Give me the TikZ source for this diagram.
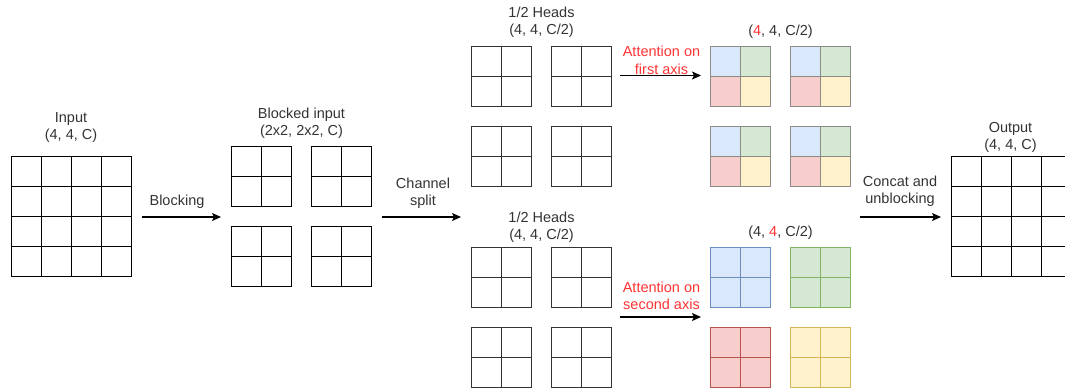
\documentclass[tikz,border=0pt]{standalone}
\usepackage{fontspec}
\setmainfont{Liberation Sans}
\usetikzlibrary{arrows.meta}

\definecolor{txt}{HTML}{333333}
\definecolor{hot}{HTML}{FF3333}
\definecolor{bluef}{HTML}{DAE8FC}\definecolor{blues}{HTML}{6C8EBF}
\definecolor{greenf}{HTML}{D5E8D4}\definecolor{greens}{HTML}{82B366}
\definecolor{redf}{HTML}{F8CECC}\definecolor{reds}{HTML}{B85450}
\definecolor{yellowf}{HTML}{FFF2CC}\definecolor{yellows}{HTML}{D6B656}
\definecolor{mixs}{HTML}{8C8C84}

% n x n grid of square cells: #1,#2 top-left corner, #3 cells per side, #4 cell size, #5 style
\newcommand\cellgrid[5]{%
  \pgfmathsetmacro\gside{#3*#4}%
  \pgfmathtruncatemacro\glast{#3-1}%
  \draw[#5] (#1,#2) rectangle ++(\gside,\gside);
  \foreach \k in {1,...,\glast}{%
    \draw[#5] (#1+\k*#4,#2) -- ++(0,\gside);
    \draw[#5] (#1,#2+\k*#4) -- ++(\gside,0);
  }}

% 2x2 block with four differently coloured cells
\newcommand\mixblock[2]{%
  \fill[bluef]   (#1,#2)       rectangle ++(30,30);
  \fill[greenf]  (#1+30,#2)    rectangle ++(30,30);
  \fill[redf]    (#1,#2+30)    rectangle ++(30,30);
  \fill[yellowf] (#1+30,#2+30) rectangle ++(30,30);
  \cellgrid{#1}{#2}{2}{30}{cellmix}}

% 2x2 block filled with a single colour
\newcommand\oneblock[4]{%
  \fill[#3] (#1,#2) rectangle ++(60,60);
  \cellgrid{#1}{#2}{2}{30}{cellline,draw=#4}}

\tikzset{
  cellline/.style={line width=1.2pt, draw=black},
  headline/.style={line width=1.2pt, draw=black!80},
  cellmix/.style={line width=1.2pt, draw=mixs},
  lbl/.style={font=\fontsize{14.5}{17.4}\selectfont, text=txt, align=center, inner sep=0pt},
  hotlbl/.style={lbl, text=hot},
  arr/.style={line width=1.2pt, draw=black, -{Stealth[length=9pt,width=8pt,inset=2pt]}},
}

\begin{document}
\begin{tikzpicture}[x=1pt,y=-1pt]
\useasboundingbox (0,0) rectangle (1065,391);
\clip (0,0) rectangle (1065,391);

% input tensor
\node[lbl] (inlbl) at (71,127.5) {Input\\(4, 4, C)};
\cellgrid{11.5}{156.5}{4}{30}{cellline}

% blocking
\coordinate (blkA) at (142,217);
\coordinate (blkB) at (221,217);
\draw[arr] (blkA) -- (blkB);
\node[lbl] (blklbl) at (177,202) {Blocking};

% blocked input
\node[lbl] (blockedlbl) at (301.5,123.5) {Blocked input\\(2x2, 2x2, C)};
\foreach \bx in {231.5,311.5}{\foreach \by in {146.5,226.5}{\cellgrid{\bx}{\by}{2}{30}{cellline}}}

% channel split
\coordinate (splA) at (382,217);
\coordinate (splB) at (461,217);
\draw[arr] (splA) -- (splB);
\node[lbl] (spllbl) at (423,193.5) {Channel\\split};

% two halves of the heads
\node[lbl] (headsA) at (541.5,22.5) {1/2 Heads\\(4, 4, C/2)};
\node[lbl] (headsB) at (541.5,227.5) {1/2 Heads\\(4, 4, C/2)};
\foreach \bx in {471.5,551.5}{
  \foreach \by in {46.5,126.5}{\cellgrid{\bx}{\by}{2}{30}{headline}}
  \foreach \by in {247.5,327.5}{\cellgrid{\bx}{\by}{2}{30}{headline}}
}

% attention along each axis
\coordinate (attA1) at (620,75.5);
\coordinate (attA2) at (701,75.5);
\draw[arr] (attA1) -- (attA2);
\node[hotlbl] (attAlbl) at (661.5,60.5) {Attention on\\first axis};
\coordinate (attB1) at (620,317);
\coordinate (attB2) at (701,317);
\draw[arr] (attB1) -- (attB2);
\node[hotlbl] (attBlbl) at (661.5,296) {Attention on\\second axis};

% result of first-axis attention
\node[lbl] (resAlbl) at (780.5,32) {(\textcolor{hot}{4}, 4, C/2)};
\foreach \bx in {710.5,790.5}{\foreach \by in {46.5,126.5}{\mixblock{\bx}{\by}}}

% result of second-axis attention
\node[lbl] (resBlbl) at (780.5,233) {(4, \textcolor{hot}{4}, C/2)};
\oneblock{710.5}{247.5}{bluef}{blues}
\oneblock{790.5}{247.5}{greenf}{greens}
\oneblock{710.5}{327.5}{redf}{reds}
\oneblock{790.5}{327.5}{yellowf}{yellows}

% concat and unblocking
\coordinate (catA) at (860,217);
\coordinate (catB) at (941,217);
\draw[arr] (catA) -- (catB);
\node[lbl] (catlbl) at (900,191.5) {Concat and\\unblocking};

% output tensor
\node[lbl] (outlbl) at (1010.5,137.5) {Output\\(4, 4, C)};
\cellgrid{951.5}{156.5}{4}{30}{cellline}
\end{tikzpicture}
\end{document}
